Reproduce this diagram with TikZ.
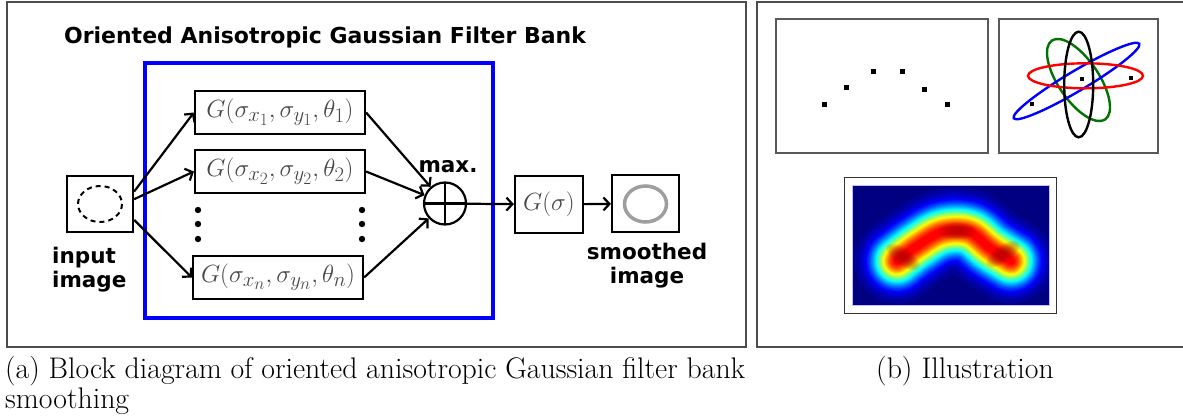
\documentclass[tikz,border=0pt]{standalone}
\usepackage{fontspec}
\newfontfamily\labelsans{DejaVu Sans}
\usetikzlibrary{arrows.meta}
\begin{document}
\begin{tikzpicture}[x=1pt,y=-1pt,
  frame/.style={draw=black!70,line width=1.4pt},
  filterbox/.style={draw,line width=2.2pt,minimum width=170pt,minimum height=43pt,inner sep=0pt,text=black!72,font=\fontsize{32}{36}\selectfont},
  imgbox/.style={draw,line width=2.2pt,minimum width=66pt,minimum height=56pt,inner sep=0pt},
  lbl/.style={font=\labelsans\bfseries\fontsize{21.5}{24}\selectfont,inner sep=0pt},
  flow/.style={line width=2.2pt,-{Straight Barb[length=6pt,width=13pt]}},
  subimg/.style={draw=black!65,line width=1.2pt},
  pixel/.style={fill=black},
  capt/.style={font=\fontsize{29.8}{34}\selectfont,inner sep=0pt}]
\useasboundingbox (0,0) rectangle (1183,418);
\fill[white] (0,0) rectangle (1183,418);

% panel frames
\draw[frame] (7,2) rectangle (746,347);
\draw[frame] (1190,2) -- (757,2) -- (757,347) -- (1190,347);

% ---------- block diagram ----------
\node[lbl,font=\labelsans\bfseries\fontsize{22}{26}\selectfont,anchor=base] (title) at (325,43) {Oriented Anisotropic Gaussian Filter Bank};
\draw[blue,line width=4pt] (145,63) rectangle (493,318);

\node[imgbox] (in) at (100,204) {};
\draw[dashed,line width=2pt,dash pattern=on 5pt off 4pt] (100,204) ellipse [x radius=22,y radius=18];
\node[lbl,anchor=base west] (inlbl1) at (52,263) {input};
\node[lbl,anchor=base west] (inlbl2) at (52,287) {image};

\node[filterbox] (f1) at (280,112.5) {$G(\sigma_{x_1},\sigma_{y_1},\theta_1)$};
\node[filterbox] (f2) at (280,171.5) {$G(\sigma_{x_2},\sigma_{y_2},\theta_2)$};
\node[filterbox] (fn) at (278,277.5) {$G(\sigma_{x_n},\sigma_{y_n},\theta_n)$};

\foreach \yy in {210,224,239}{
  \fill (198,\yy) circle (3.2);
  \fill (362,\yy) circle (3.2);
}

\node[circle,draw,line width=2.2pt,minimum size=42pt,inner sep=0pt,
  path picture={\draw[line width=2.6pt] (path picture bounding box.north) -- (path picture bounding box.south)
    (path picture bounding box.west) -- (path picture bounding box.east);}] (sum) at (445,203.5) {};
\node[lbl,anchor=base] (maxlbl) at (448,172) {max.};

\node[imgbox,minimum width=68pt,minimum height=57pt,text=black!72,font=\fontsize{32}{36}\selectfont] (gs) at (549,204.5) {$G(\sigma)$};
\node[imgbox,minimum width=67pt,minimum height=57pt] (out) at (645.5,203.5) {};
\draw[black!38,line width=3.5pt] (645.5,204) ellipse [x radius=21,y radius=18];
\node[lbl,anchor=base] (outlbl1) at (647,259) {smoothed};
\node[lbl,anchor=base] (outlbl2) at (647,283) {image};

\draw[flow] (in.20) -- (f1.west);
\draw[flow] (in.8) -- (f2.west);
\draw[flow] (in.-25) -- (fn.west);
\draw[flow] (f1.east) -- (sum);
\draw[flow] (f2.east) -- (sum);
\draw[flow] (fn.east) -- (sum);
\draw[flow] (sum) -- (gs);
\draw[flow] (gs) -- (out);

% ---------- illustration ----------
% sample points
\draw[subimg] (776,19) rectangle (988,153);
\foreach \px/\py in {824/104,846/87,873/71,902/71,924/89,947/104}{
  \fill[pixel] (\px-2.5,\py-2.5) rectangle ++(5,5);
}

% fitted oriented Gaussians
\draw[subimg] (999,19) rectangle (1158,153);
\begin{scope}[line width=2.4pt]
\draw[black!50!green!90!black] (1078.5,80) ellipse [x radius=47.6,y radius=20.3,rotate=-56];
\draw[blue] (1076.5,81) ellipse [x radius=73,y radius=10,rotate=30.7];
\draw[red] (1085.5,75.8) ellipse [x radius=57.5,y radius=12.5];
\draw[black] (1078.7,84.5) ellipse [x radius=14.5,y radius=52.8];
\end{scope}
\foreach \px/\py in {1032/104,1082/79,1131/78}{
  \fill[pixel] (\px-2.3,\py-2.3) rectangle ++(4.6,4.6);
}

% smoothed response (jet colour map)
\draw[draw=black!80,line width=1pt,fill=white] (844,177) rectangle (1056,313);
\begin{scope}
\clip (852,185) rectangle (1049,305);
\definecolor{jetbg}{rgb}{0,0,0.5}
\fill[jetbg] (852,185) rectangle (1049,305);
\foreach \k in {1,...,34}{
  \pgfmathsetmacro\tv{0.9*\k/35}
  \pgfmathsetmacro\hmw{32*sqrt(-2*ln(\tv/0.9))}
  \pgfmathsetmacro\jr{max(0,min(1,1.5-abs(4*\tv-3)))}
  \pgfmathsetmacro\jg{max(0,min(1,1.5-abs(4*\tv-2)))}
  \pgfmathsetmacro\jb{max(0,min(1,1.5-abs(4*\tv-1)))}
  \definecolor{jetc}{rgb}{\jr,\jg,\jb}
  \draw[jetc,line width=\hmw pt,line cap=round,line join=round]
    plot[smooth,tension=0.6] coordinates {(897,261) (917,246) (942,232) (969,232) (990,248) (1011,261)};
}
% darker cores where neighbouring kernels overlap
\foreach \cx/\cy/\rot in {903/257/-35,957/231/0,1003/254/35}{
  \foreach \s in {1,...,6}{
    \fill[red!60!black,opacity=0.12] (\cx,\cy) ellipse [x radius=4+2.6*\s,y radius=2+1.1*\s,rotate=\rot];
  }
}
\end{scope}
\draw[blue!25,line width=0.8pt] (852,185) rectangle (1049,305);

% ---------- captions ----------
\node[capt,anchor=base west] (capa1) at (5,378) {\makebox[740pt][s]{(a) Block diagram of oriented anisotropic Gaussian filter bank}};
\node[capt,anchor=base west] (capa2) at (5,408) {smoothing};
\node[capt,anchor=base] (capb) at (965,378) {(b) Illustration};
\end{tikzpicture}
\end{document}
